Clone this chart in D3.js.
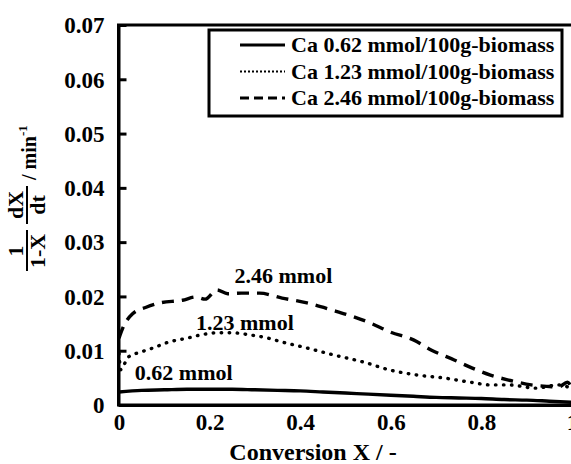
<!DOCTYPE html>
<html>
<head>
<meta charset="utf-8">
<script src="https://cdn.jsdelivr.net/npm/d3@7"></script>
<style>
  body { margin: 0; background: #fff; }
  svg { display: block; }
  text { font-family: "Liberation Serif", "Times New Roman", serif; font-weight: bold; fill: #000; }
</style>
</head>
<body>
<div id="chart"></div>
<script>
// series: Ca 0.62 mmol/100g-biomass (solid)
var xLow = [0, 0.05, 0.1, 0.15, 0.2, 0.25, 0.3, 0.35, 0.4, 0.45, 0.5, 0.55, 0.6, 0.65, 0.7, 0.75, 0.8, 0.85, 0.9, 0.95, 1.0];
var yLow = [0.0024, 0.0027, 0.0028, 0.0029, 0.0029, 0.0029, 0.0028, 0.0027, 0.0026, 0.0024, 0.0022, 0.0020, 0.0018, 0.0016, 0.0014, 0.0013, 0.0012, 0.0010, 0.0009, 0.0007, 0.0005];
// series: Ca 1.23 mmol/100g-biomass (dotted)
var xMid = [0, 0.004, 0.02, 0.05, 0.075, 0.11, 0.15, 0.18, 0.215, 0.25, 0.29, 0.33, 0.36, 0.415, 0.47, 0.54, 0.6, 0.66, 0.715, 0.775, 0.82, 0.86, 0.92, 0.97, 1.0];
var yMid = [0.0095, 0.0065, 0.0088, 0.0098, 0.0105, 0.0116, 0.0123, 0.0129, 0.0133, 0.0133, 0.0129, 0.0123, 0.0116, 0.0105, 0.0093, 0.0079, 0.0064, 0.0055, 0.0050, 0.0042, 0.0037, 0.0037, 0.0031, 0.0037, 0.0030];
// series: Ca 2.46 mmol/100g-biomass (dashed)
var xHigh = [0, 0.01, 0.03, 0.06, 0.09, 0.14, 0.17, 0.19, 0.216, 0.24, 0.27, 0.31, 0.36, 0.415, 0.47, 0.52, 0.555, 0.6, 0.65, 0.69, 0.74, 0.78, 0.82, 0.86, 0.91, 0.95, 0.97, 0.99, 1.0];
var yHigh = [0.0123, 0.0145, 0.0168, 0.0180, 0.0188, 0.0193, 0.0199, 0.0195, 0.0212, 0.0205, 0.0206, 0.0206, 0.0197, 0.0188, 0.0175, 0.0162, 0.0151, 0.0134, 0.0120, 0.0101, 0.0083, 0.0068, 0.0055, 0.0046, 0.0037, 0.0034, 0.0033, 0.0042, 0.0030];

var legendLabels = ["Ca 0.62 mmol/100g-biomass", "Ca 1.23 mmol/100g-biomass", "Ca 2.46 mmol/100g-biomass"];
var curveLabels = ["0.62 mmol", "1.23 mmol", "2.46 mmol"];
var xTicks = [0, 0.2, 0.4, 0.6, 0.8, 1];
var yTicks = [0, 0.01, 0.02, 0.03, 0.04, 0.05, 0.06, 0.07];

(function() {
var W = 571, H = 464;
var pLeft = 119, pRight = 572, pTop = 25, pBottom = 405;

var svg = d3.select("#chart").append("svg")
    .attr("width", W)
    .attr("height", H);

var x = d3.scaleLinear().domain([0, 1]).range([pLeft, pRight]);
var y = d3.scaleLinear().domain([0, 0.07]).range([pBottom, pTop]);

var fmtX = function(d) { return d === 0 ? "0" : (d === 1 ? "1" : d3.format(".1f")(d)); };
var fmtY = function(d) { return d === 0 ? "0" : d3.format(".2f")(d); };

// curves
var line = d3.line()
    .x(function(d) { return x(d[0]); })
    .y(function(d) { return y(d[1]); })
    .curve(d3.curveMonotoneX);

var series = [
  { xs: xLow, ys: yLow, dash: null, width: 3.4, cap: "butt" },
  { xs: xMid, ys: yMid, dash: "0.5,7.5", width: 3.4, cap: "round" },
  { xs: xHigh, ys: yHigh, dash: "12,8", width: 3.4, cap: "butt" }
];

series.forEach(function(s) {
  var pts = s.xs.map(function(v, i) { return [v, s.ys[i]]; });
  svg.append("path")
      .datum(pts)
      .attr("d", line)
      .attr("fill", "none")
      .attr("stroke", "#000")
      .attr("stroke-width", s.width)
      .attr("stroke-linecap", s.cap)
      .attr("stroke-dasharray", s.dash);
});

// frame
svg.append("rect")
    .attr("x", pLeft - 0.5).attr("y", pTop)
    .attr("width", pRight - pLeft + 2).attr("height", pBottom - pTop)
    .attr("fill", "none").attr("stroke", "#000").attr("stroke-width", 3);

// y axis, ticks inward
var yAxis = svg.append("g")
    .attr("transform", "translate(" + (pLeft - 0.5) + ",0)")
    .call(d3.axisLeft(y).tickValues(yTicks).tickFormat(fmtY).tickSize(-8).tickSizeOuter(0).tickPadding(14));
yAxis.select(".domain").attr("stroke-width", 3);
yAxis.selectAll(".tick line").attr("stroke-width", 3);
yAxis.selectAll("text")
    .attr("font-family", "Liberation Serif, serif")
    .attr("font-weight", "bold")
    .attr("font-size", 23)
    .attr("dy", "0.34em");

// x axis
var xAxis = svg.append("g")
    .attr("transform", "translate(0," + pBottom + ")")
    .call(d3.axisBottom(x).tickValues(xTicks).tickFormat(fmtX).tickSize(0).tickSizeOuter(0).tickPadding(9));
xAxis.select(".domain").attr("stroke-width", 3);
xAxis.selectAll("text")
    .attr("font-family", "Liberation Serif, serif")
    .attr("font-weight", "bold")
    .attr("font-size", 23)
    .attr("dy", "0.71em");

// curve annotations
var annPos = [[0.035, 0.0046], [0.17, 0.0138], [0.255, 0.0225]];
curveLabels.forEach(function(t, i) {
  svg.append("text")
      .attr("x", x(annPos[i][0]))
      .attr("y", y(annPos[i][1]))
      .attr("font-size", 22)
      .text(t);
});

// legend
var lg = svg.append("g");
lg.append("rect")
    .attr("x", 209).attr("y", 30)
    .attr("width", 353).attr("height", 86)
    .attr("fill", "#fff").attr("stroke", "#000").attr("stroke-width", 3);
legendLabels.forEach(function(t, i) {
  var yy = 45 + i * 26.5;
  lg.append("line")
      .attr("x1", 240).attr("x2", 285)
      .attr("y1", yy).attr("y2", yy)
      .attr("stroke", "#000")
      .attr("stroke-width", i === 1 ? 2.2 : 3)
      .attr("stroke-dasharray", i === 0 ? null : (i === 1 ? "2,2" : "9,5"));
  lg.append("text")
      .attr("x", 291).attr("y", yy + 7)
      .attr("font-size", 22)
      .text(t);
});

// x title
svg.append("text")
    .attr("x", 313).attr("y", 460)
    .attr("text-anchor", "middle")
    .attr("font-size", 24)
    .text("Conversion X / -");

// y title: (1 / 1-X) (dX / dt) / min-1, rotated
var yt = svg.append("g").attr("transform", "translate(27,0) rotate(-90)");
yt.append("text").attr("x", -251).attr("y", -4).attr("text-anchor", "middle").attr("font-size", 22).text("1");
yt.append("line").attr("x1", -271).attr("x2", -230).attr("y1", 0).attr("y2", 0).attr("stroke", "#000").attr("stroke-width", 2);
yt.append("text").attr("x", -251).attr("y", 18).attr("text-anchor", "middle").attr("font-size", 22).text("1-X");
yt.append("text").attr("x", -205).attr("y", -4).attr("text-anchor", "middle").attr("font-size", 22).text("dX");
yt.append("line").attr("x1", -224).attr("x2", -186).attr("y1", 0).attr("y2", 0).attr("stroke", "#000").attr("stroke-width", 2);
yt.append("text").attr("x", -205).attr("y", 18).attr("text-anchor", "middle").attr("font-size", 22).text("dt");
var unit = yt.append("text").attr("x", -180).attr("y", 9).attr("font-size", 20);
unit.append("tspan").text("/ min");
unit.append("tspan").attr("dy", -9).attr("font-size", 13).text("-1");
})();
</script>
</body>
</html>
